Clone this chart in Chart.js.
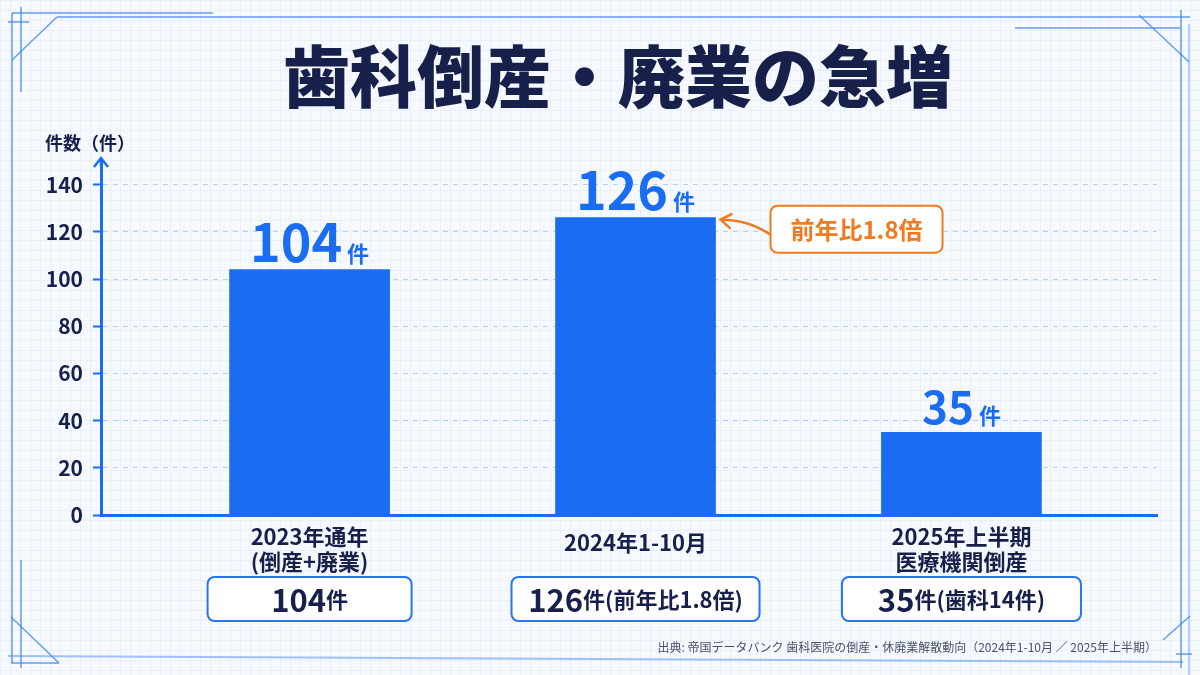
<!DOCTYPE html>
<html lang="ja">
<head>
<meta charset="utf-8">
<title>歯科倒産・廃業の急増</title>
<script src="https://cdn.jsdelivr.net/npm/chart.js@4.4.0/dist/chart.umd.min.js"></script>
<style>
    html, body { margin: 0; padding: 0; background: #f6f9fe; }
    #chart { display: block; }
</style>
</head>
<body>
<canvas id="chart" width="1200" height="675"></canvas>
<script>
// データ
const chartTitle = '歯科倒産・廃業の急増';
const yAxisTitle = '件数（件）';
const categories = [['2023年通年', '(倒産+廃業)'], ['2024年1-10月'], ['2025年上半期', '医療機関倒産']];
const counts = [104, 126, 35];
const unitLabel = '件';
const boxNumbers = ['104', '126', '35'];
const boxNotes = ['件', '件(前年比1.8倍)', '件(歯科14件)'];
const yTicks = [0, 20, 40, 60, 80, 100, 120, 140];
const ratioNote = '前年比1.8倍';
const sourceNote = '出典: 帝国データバンク 歯科医院の倒産・休廃業解散動向（2024年1-10月 ／ 2025年上半期）';

// スタイル
const FONT = '"Noto Sans CJK JP", "Noto Sans", sans-serif';
const NAVY = '#16204a';
const BLUE = '#1a6cf0';
const ORANGE = '#f07a1e';
const valueSizes = [52, 52, 44];
const boxWidths = [204, 248, 239];

// 色々なテキストを並べて描く
function drawParts(ctx, parts, cx, y) {
    let total = 0;
    parts.forEach(function (p) {
        ctx.font = p.font;
        p.w = ctx.measureText(p.text).width;
        total += p.w;
    });
    let x = cx - total / 2;
    parts.forEach(function (p) {
        ctx.font = p.font;
        ctx.fillStyle = p.color;
        ctx.textAlign = 'left';
        ctx.fillText(p.text, x, y);
        x += p.w;
    });
}

function line(ctx, x1, y1, x2, y2) {
    ctx.beginPath();
    ctx.moveTo(x1, y1);
    ctx.lineTo(x2, y2);
    ctx.stroke();
}

function roundBox(ctx, x, y, w, h, r, stroke, width) {
    ctx.beginPath();
    ctx.roundRect(x, y, w, h, r);
    ctx.fillStyle = '#ffffff';
    ctx.fill();
    ctx.lineWidth = width;
    ctx.strokeStyle = stroke;
    ctx.stroke();
}

const decor = {
    id: 'decor',
    beforeDraw(chart) {
        const ctx = chart.ctx;
        ctx.save();
        // 背景 方眼
        ctx.fillStyle = '#f6f9fe';
        ctx.fillRect(0, 0, chart.width, chart.height);
        ctx.strokeStyle = 'rgba(150, 185, 235, 0.11)';
        ctx.lineWidth = 1;
        for (let x = 0.5; x < chart.width; x += 10) line(ctx, x, 0, x, chart.height);
        for (let y = 0.5; y < chart.height; y += 10) line(ctx, 0, y, chart.width, y);

        // 枠線
        ctx.strokeStyle = 'rgba(55, 125, 235, 0.75)';
        ctx.lineWidth = 1.5;
        line(ctx, 12, 13, 213, 13);
        line(ctx, 57, 17, 1190, 17);
        line(ctx, 12, 13, 12, 663);
        line(ctx, 12, 60, 57, 17);
        line(ctx, 21, 7, 21, 92);
        line(ctx, 8, 22, 29, 22);
        line(ctx, 1015, 28, 1180, 28);
        line(ctx, 1139, 15, 1189, 62);
        line(ctx, 1181, 10, 1181, 668);
        line(ctx, 21, 560, 21, 668);
        line(ctx, 11, 663, 59, 663);
        line(ctx, 11, 617, 59, 663);
        line(ctx, 1190, 616, 1163, 640);
        line(ctx, 1176, 654, 1192, 654);
        ctx.strokeStyle = 'rgba(55, 125, 235, 0.45)';
        line(ctx, 1189, 24, 1189, 675);
        ctx.lineWidth = 2;
        line(ctx, 8, 656, 1183, 662);
        ctx.restore();
    },
    afterDraw(chart) {
        const ctx = chart.ctx;
        const xs = chart.scales.x;
        const area = chart.chartArea;
        const meta = chart.getDatasetMeta(0);
        ctx.save();

        // タイトル
        ctx.textBaseline = 'middle';
        ctx.textAlign = 'center';
        ctx.fillStyle = NAVY;
        ctx.font = '900 67px ' + FONT;
        ctx.fillText(chartTitle, 618, 77);

        // Y軸タイトル
        ctx.textAlign = 'left';
        ctx.font = 'bold 18px ' + FONT;
        ctx.fillText(yAxisTitle, 45, 143);

        // Y軸の矢印
        ctx.strokeStyle = BLUE;
        ctx.lineWidth = 2.5;
        ctx.beginPath();
        ctx.moveTo(area.left - 7, area.top + 6);
        ctx.lineTo(area.left, area.top - 3);
        ctx.lineTo(area.left + 7, area.top + 6);
        ctx.stroke();
        line(ctx, area.left, area.top - 3, area.left, area.top + 5);

        // 棒の上の値
        ctx.textBaseline = 'alphabetic';
        meta.data.forEach(function (bar, i) {
            drawParts(ctx, [
                { text: String(counts[i]), font: 'bold ' + valueSizes[i] + 'px ' + FONT, color: BLUE },
                { text: ' ' + unitLabel, font: 'bold 22px ' + FONT, color: BLUE }
            ], bar.x, bar.y - 8);
        });

        // カテゴリ名とボックス
        ctx.textBaseline = 'middle';
        categories.forEach(function (lines, i) {
            const cx = xs.getPixelForValue(i);
            ctx.fillStyle = NAVY;
            ctx.textAlign = 'center';
            ctx.font = 'bold 22px ' + FONT;
            lines.forEach(function (txt, j) {
                const y = lines.length === 1 ? 543 : 537 + j * 25;
                ctx.fillText(txt, cx, y);
            });
            const w = boxWidths[i];
            roundBox(ctx, cx - w / 2, 577, w, 44, 7, '#2a74ee', 2);
            drawParts(ctx, [
                { text: boxNumbers[i], font: 'bold 31px ' + FONT, color: NAVY },
                { text: boxNotes[i], font: 'bold 22px ' + FONT, color: NAVY }
            ], cx, 600);
        });

        // 前年比の注記
        const bar = meta.data[1];
        const right = bar.x + bar.width / 2;
        const tipX = right + 5, tipY = bar.y + 2;
        const bx = right + 55, by = bar.y - 12;
        ctx.strokeStyle = ORANGE;
        ctx.lineWidth = 2.5;
        ctx.beginPath();
        ctx.moveTo(bx, by + 29);
        ctx.quadraticCurveTo(bx - 22, by + 14, tipX + 1, tipY);
        ctx.stroke();
        ctx.beginPath();
        ctx.moveTo(tipX + 12, tipY - 6);
        ctx.lineTo(tipX, tipY);
        ctx.lineTo(tipX + 10, tipY + 9);
        ctx.stroke();
        roundBox(ctx, bx, by, 172, 47, 7, ORANGE, 2);
        ctx.fillStyle = ORANGE;
        ctx.textAlign = 'center';
        ctx.font = 'bold 24px ' + FONT;
        ctx.fillText(ratioNote, bx + 86, by + 24);

        // 出典
        ctx.textAlign = 'right';
        ctx.fillStyle = '#4b5168';
        ctx.font = '12px ' + FONT;
        ctx.fillText(sourceNote, 1157, 647);
        ctx.restore();
    }
};

window.onload = function () {
    const ctx = document.getElementById('chart');
    const myChart = new Chart(ctx, {
        type: 'bar',
        data: {
            datasets: [{
                data: counts.map(function (v, i) { return { x: i, y: v }; }),
                backgroundColor: BLUE,
                barThickness: 160
            }]
        },
        options: {
            responsive: false,
            animation: false,
            layout: { padding: { left: 0, right: 43, top: 161, bottom: 0 } },
            plugins: {
                legend: { display: false },
                tooltip: { enabled: false }
            },
            scales: {
                x: {
                    type: 'linear',
                    min: -0.64,
                    max: 2.6,
                    offset: false,
                    grid: { display: false },
                    ticks: { display: false },
                    border: { color: BLUE, width: 3 },
                    afterFit: function (s) { s.height = 160; }
                },
                y: {
                    min: 0,
                    max: 150,
                    afterBuildTicks: function (s) {
                        s.ticks = yTicks.map(function (v) { return { value: v }; });
                    },
                    ticks: {
                        color: NAVY,
                        padding: 10,
                        font: { family: FONT, size: 21, weight: 'bold' }
                    },
                    grid: {
                        color: 'rgba(120, 165, 235, 0.5)',
                        lineWidth: 1,
                        tickColor: BLUE,
                        tickWidth: 2,
                        tickLength: 8,
                        tickBorderDash: []
                    },
                    border: { color: BLUE, width: 3, dash: [5, 5] },
                    afterFit: function (s) { s.width = 101; }
                }
            }
        },
        plugins: [decor]
    });
};
</script>
</body>
</html>
